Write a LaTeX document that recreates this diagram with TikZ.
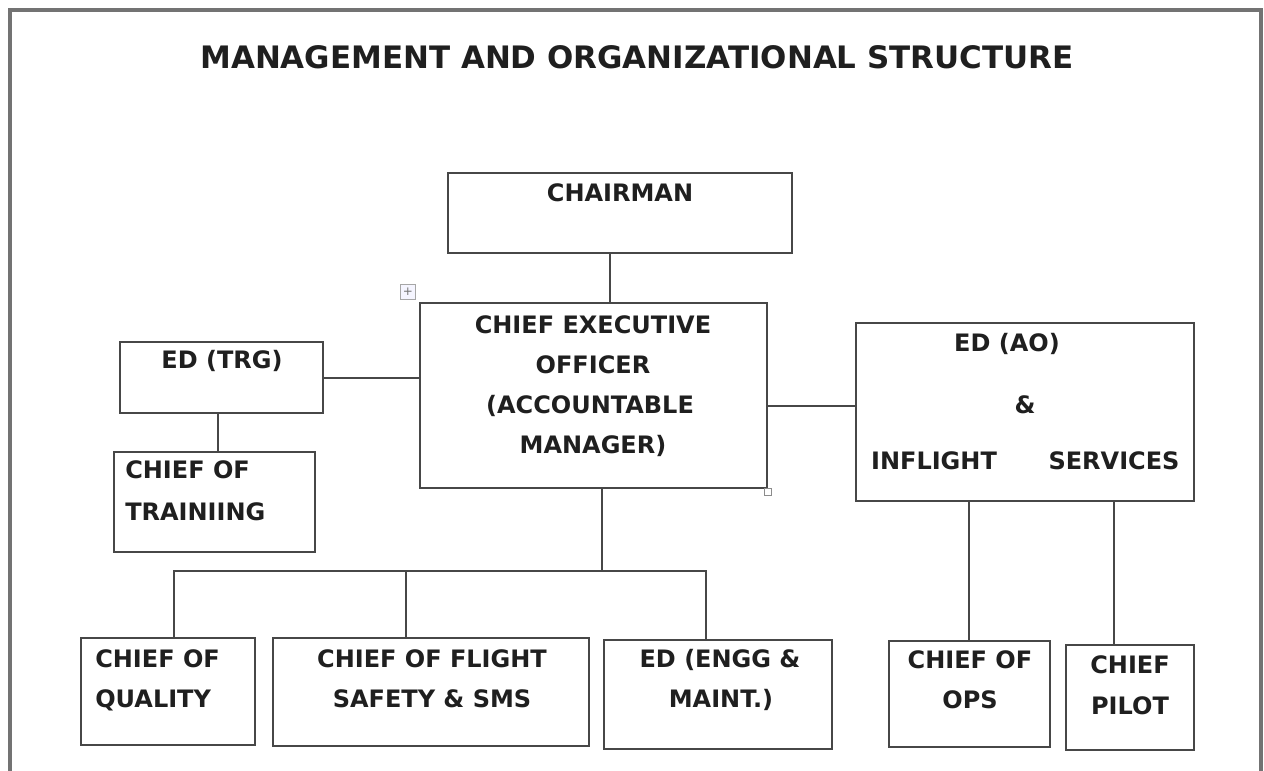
\documentclass[tikz,border=0pt]{standalone}
\usepackage{fontspec}
\setmainfont{DejaVu Sans}
\usetikzlibrary{fit}
\begin{document}
\begin{tikzpicture}[x=0.75pt,y=-0.75pt,
  frame/.style={draw=black!55, line width=2.4pt},
  box/.style={draw=black!72, line width=1.5pt, inner sep=0pt},
  link/.style={draw=black!72, line width=1.5pt},
  lbl/.style={font=\bfseries\fontsize{18}{22}\selectfont, inner sep=0pt, text height=13.1pt, text depth=0pt, text=black!88},
  ttl/.style={font=\bfseries\fontsize{23.2}{28}\selectfont, inner sep=0pt, text height=16.9pt, text depth=0pt, text=black!88}]
\useasboundingbox (0,0) rectangle (1264,771);
% outer frame, open at the bottom
\draw[frame] (10,771) -- (10,10) -- (1261,10) -- (1261,771);
\node[ttl] (title) at (637,57) {MANAGEMENT AND ORGANIZATIONAL STRUCTURE};

% boxes
\node[box, fit={(448,173) (792,253)}] (chair) {};
\node[box, fit={(420,303) (767,488)}] (ceo) {};
\node[box, fit={(120,342) (323,413)}] (trg) {};
\node[box, fit={(114,452) (315,552)}] (ctrg) {};
\node[box, fit={(856,323) (1194,501)}] (ao) {};
\node[box, fit={(81,638) (255,745)}] (qual) {};
\node[box, fit={(273,638) (589,746)}] (fs) {};
\node[box, fit={(604,640) (832,749)}] (engg) {};
\node[box, fit={(889,641) (1050,747)}] (ops) {};
\node[box, fit={(1066,645) (1194,750)}] (pilot) {};

% labels
\node[lbl] (l-chair) at (620,193) {CHAIRMAN};
\node[lbl] (l-ceo1) at (593,325) {CHIEF EXECUTIVE};
\node[lbl] (l-ceo2) at (593,365) {OFFICER};
\node[lbl] (l-ceo3) at (590,405) {(ACCOUNTABLE};
\node[lbl] (l-ceo4) at (593,445) {MANAGER)};
\node[lbl] (l-trg) at (222,360) {ED (TRG)};
\node[lbl, anchor=west] (l-ctrg1) at (125,470) {CHIEF OF};
\node[lbl, anchor=west] (l-ctrg2) at (125,512) {TRAINIING};
\node[lbl] (l-ao1) at (1007,343) {ED (AO)};
\node[lbl] (l-ao2) at (1025,405) {\&};
\node[lbl] (l-ao3) at (934,461) {INFLIGHT};
\node[lbl] (l-ao4) at (1114,461) {SERVICES};
\node[lbl, anchor=west] (l-qual1) at (95,659) {CHIEF OF};
\node[lbl, anchor=west] (l-qual2) at (95,699) {QUALITY};
\node[lbl] (l-fs1) at (432,659) {CHIEF OF FLIGHT};
\node[lbl] (l-fs2) at (432,699) {SAFETY \& SMS};
\node[lbl] (l-engg1) at (720,659) {ED (ENGG \&};
\node[lbl] (l-engg2) at (721,699) {MAINT.)};
\node[lbl] (l-ops1) at (970,660) {CHIEF OF};
\node[lbl] (l-ops2) at (970,700) {OPS};
\node[lbl] (l-pilot1) at (1130,665) {CHIEF};
\node[lbl] (l-pilot2) at (1130,706) {PILOT};

% table handles
\node[draw=black!35, fill=blue!4, line width=0.6pt, minimum size=11pt, inner sep=0pt,
      font=\fontsize{9}{9}\selectfont, text=black!55] (handle) at (408,292) {+};
\node[draw=black!45, line width=0.6pt, minimum size=5pt, inner sep=0pt] (sizer) at (768,492) {};

% connectors
\draw[link] (chair.south -| 610,0) -- (ceo.north -| 610,0);
\draw[link] (trg.east |- 0,378) -- (ceo.west |- 0,378);
\draw[link] (trg.south -| 218,0) -- (ctrg.north -| 218,0);
\draw[link] (ceo.east |- 0,406) -- (ao.west |- 0,406);
\coordinate (bus) at (602,571);
\draw[link] (ceo.south -| bus) -- (bus);
\draw[link] (qual.north -| 174,0) -- (174,571) -- (706,571) -- (engg.north -| 706,0);
\draw[link] (406,571) -- (fs.north -| 406,0);
\draw[link] (ao.south -| 969,0) -- (ops.north -| 969,0);
\draw[link] (ao.south -| 1114,0) -- (pilot.north -| 1114,0);
\end{tikzpicture}
\end{document}
